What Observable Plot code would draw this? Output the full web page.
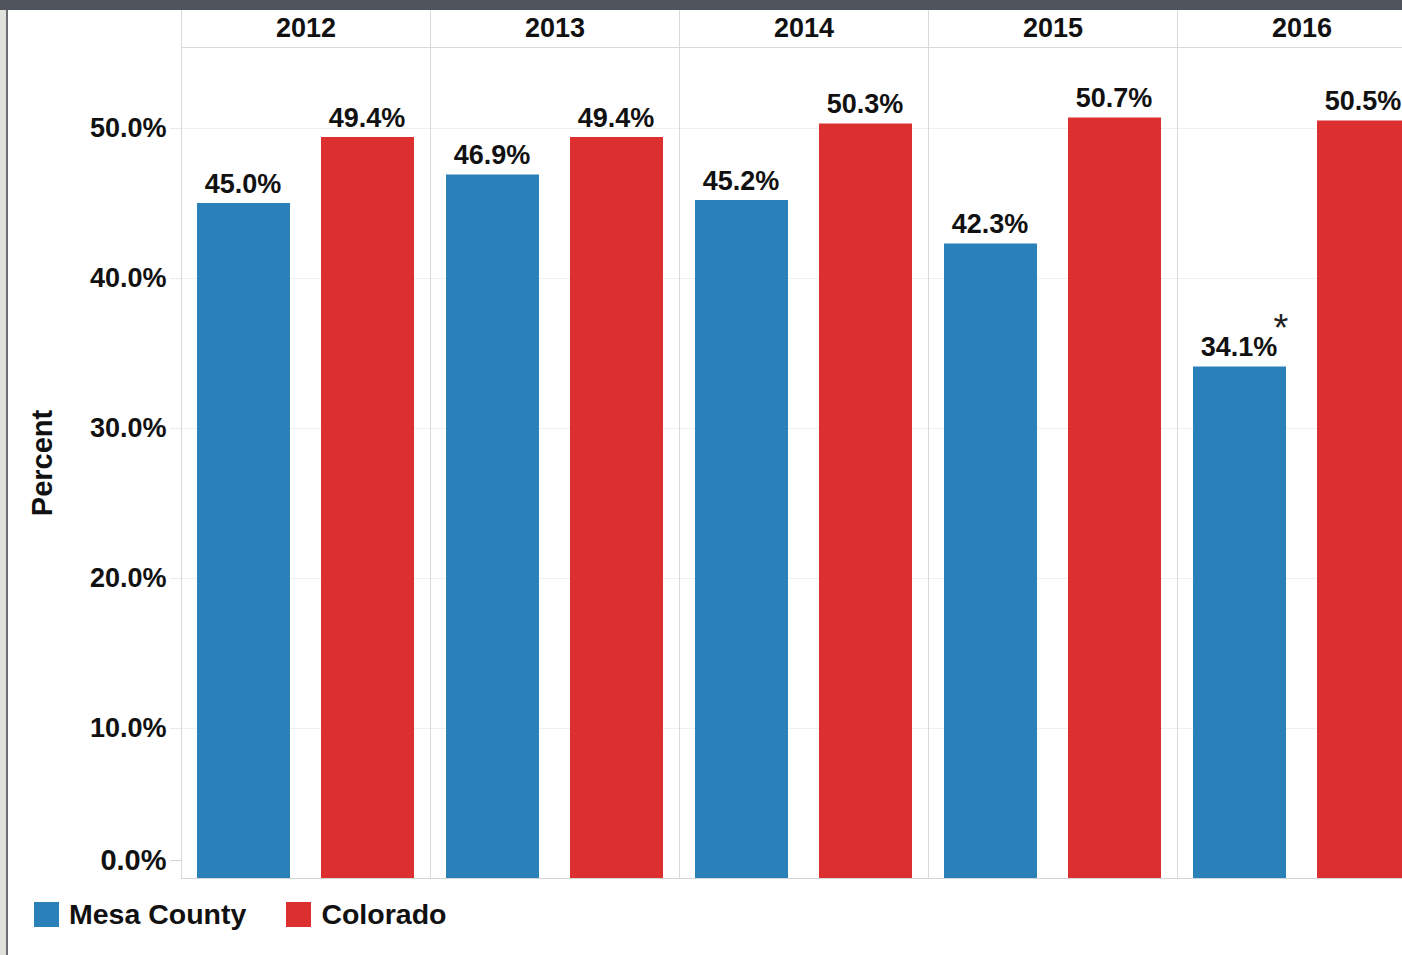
<!DOCTYPE html>
<html>
<head>
<meta charset="utf-8">
<script src="https://cdn.jsdelivr.net/npm/d3@7"></script>
<script src="https://cdn.jsdelivr.net/npm/@observablehq/plot@0.6"></script>
<style>
  html, body { margin: 0; padding: 0; background: #fff; overflow: hidden; width: 1402px; height: 955px; }
  #topbar { position: absolute; left: 0; top: 0; width: 1402px; height: 10px; background: #50545c; z-index: 3; }
  #leftstrip { position: absolute; left: 0; top: 0; width: 6px; height: 955px; background: #e0e0dc; z-index: 2; }
  #leftline { position: absolute; left: 6px; top: 0; width: 2px; height: 955px; background: #6a6d72; z-index: 2; }
  #chart { position: absolute; left: 0; top: 10px; }
  #legend { position: absolute; left: 34px; top: 898px; display: flex; align-items: center;
    font-family: "Liberation Sans", Arial, sans-serif; font-weight: bold; font-size: 28.5px; color: #111; }
  .sw { width: 25px; height: 25px; display: inline-block; margin-right: 10px; }
  .item { display: flex; align-items: center; margin-right: 40px; }
</style>
</head>
<body>
<div id="topbar"></div>
<div id="leftstrip"></div>
<div id="leftline"></div>
<div id="chart"></div>
<div id="legend"></div>
<script>
const years = ["2012", "2013", "2014", "2015", "2016"];
const series = ["Mesa County", "Colorado"];
const mesaCounty = [45.0, 46.9, 45.2, 42.3, 34.1];
const colorado = [49.4, 49.4, 50.3, 50.7, 50.5];
const mesaNotes = ["", "", "", "", "*"];
const yTicks = [0, 10, 20, 30, 40, 50];
const colors = ["#2a80b9", "#db2f30"];

const data = years.flatMap((yr, i) => [
  {year: yr, group: series[0], value: mesaCounty[i], note: mesaNotes[i]},
  {year: yr, group: series[1], value: colorado[i], note: ""}
]);

const fmt = d => d.toFixed(1) + "%";

const chart = Plot.plot({
  width: 1426,
  height: 870,
  marginTop: 37,
  marginLeft: 181,
  marginRight: 0,
  marginBottom: 2,
  style: {
    fontFamily: "'Liberation Sans', Arial, sans-serif",
    fontSize: "27px",
    fontWeight: "bold",
    color: "#111",
    maxWidth: "none",
    overflow: "visible"
  },
  fx: {domain: years, padding: 0, label: null},
  x: {domain: series, paddingInner: 0.25, paddingOuter: 0.125, axis: null},
  y: {domain: [0, 55.4]},
  color: {domain: series, range: colors},
  marks: [
    Plot.gridY(yTicks.slice(1), {stroke: "#efefef", strokeOpacity: 1}),
    Plot.frame({anchor: "left", insetTop: -37, stroke: "#d9d9d9"}),
    Plot.frame({anchor: "top", stroke: "#d9d9d9"}),
    Plot.barY(data, {fx: "year", x: "group", y: "value", fill: "group"}),
    Plot.ruleY([0], {stroke: "#d4d4d4"}),
    Plot.text(data, {fx: "year", x: "group", y: "value", text: d => fmt(d.value), lineAnchor: "bottom", dx: -1, dy: -11, fill: "#111"}),
    Plot.text(data.filter(d => d.note), {fx: "year", x: "group", y: "value", text: "note", lineAnchor: "bottom", dx: 41, dy: -26, fontSize: 38, fontWeight: "normal", fill: "#222"}),
    Plot.axisFx({anchor: "top", label: null, tickSize: 0, tickPadding: 11}),
    Plot.axisY(yTicks.slice(1), {tickSize: 11, tickPadding: 4, stroke: "#eaeaea", fill: "#111", tickFormat: fmt, label: null}),
    Plot.axisY([0], {tickSize: 11, tickPadding: 4, stroke: "#d4d4d4", fill: "#111", tickFormat: fmt, dy: -18,
      label: "Percent", labelAnchor: "center", labelOffset: 150, labelArrow: "none", fontSize: 29})
  ]
});
document.getElementById("chart").append(chart);

const legend = document.getElementById("legend");
series.forEach((s, i) => {
  const item = document.createElement("div");
  item.className = "item";
  const sw = document.createElement("span");
  sw.className = "sw";
  sw.style.background = colors[i];
  const t = document.createElement("span");
  t.textContent = s;
  item.append(sw, t);
  legend.append(item);
});
</script>
</body>
</html>
